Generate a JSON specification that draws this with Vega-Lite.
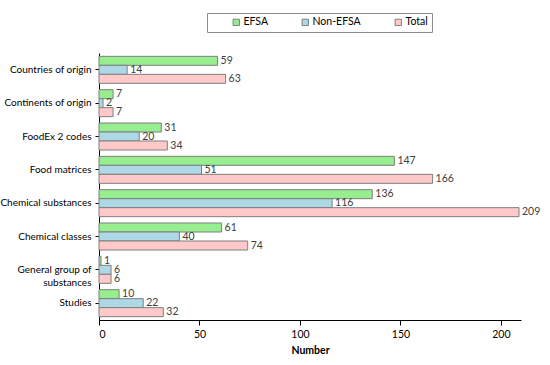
{
  "$schema": "https://vega.github.io/schema/vega-lite/v6.json",
  "autosize": {"type": "none"},
  "width": 422,
  "height": 267,
  "padding": {"left": 99, "top": 53, "right": 29, "bottom": 45},
  "background": "white",
  "config": {
    "font": "Lato",
    "view": {"stroke": null},
    "axis": {"labelFont": "Lato", "titleFont": "Lato", "labelColor": "#000", "titleColor": "#000", "domainColor": "#000", "tickColor": "#000", "grid": false}
  },
  "data": {
    "values": [
      {"category": "Countries of origin", "series": "EFSA", "value": 59},
      {"category": "Countries of origin", "series": "Non-EFSA", "value": 14},
      {"category": "Countries of origin", "series": "Total", "value": 63},
      {"category": "Continents of origin", "series": "EFSA", "value": 7},
      {"category": "Continents of origin", "series": "Non-EFSA", "value": 2},
      {"category": "Continents of origin", "series": "Total", "value": 7},
      {"category": "FoodEx 2 codes", "series": "EFSA", "value": 31},
      {"category": "FoodEx 2 codes", "series": "Non-EFSA", "value": 20},
      {"category": "FoodEx 2 codes", "series": "Total", "value": 34},
      {"category": "Food matrices", "series": "EFSA", "value": 147},
      {"category": "Food matrices", "series": "Non-EFSA", "value": 51},
      {"category": "Food matrices", "series": "Total", "value": 166},
      {"category": "Chemical substances", "series": "EFSA", "value": 136},
      {"category": "Chemical substances", "series": "Non-EFSA", "value": 116},
      {"category": "Chemical substances", "series": "Total", "value": 209},
      {"category": "Chemical classes", "series": "EFSA", "value": 61},
      {"category": "Chemical classes", "series": "Non-EFSA", "value": 40},
      {"category": "Chemical classes", "series": "Total", "value": 74},
      {"category": "General group of substances", "series": "EFSA", "value": 1},
      {"category": "General group of substances", "series": "Non-EFSA", "value": 6},
      {"category": "General group of substances", "series": "Total", "value": 6},
      {"category": "Studies", "series": "EFSA", "value": 10},
      {"category": "Studies", "series": "Non-EFSA", "value": 22},
      {"category": "Studies", "series": "Total", "value": 32}
    ]
  },
  "encoding": {
    "y": {
      "field": "category",
      "type": "nominal",
      "sort": null,
      "scale": {"paddingInner": 0.19, "paddingOuter": 0.1},
      "axis": {
        "title": null,
        "labelFontSize": 10,
        "labelPadding": 4,
        "tickSize": 4,
        "labelExpr": "datum.value == 'General group of substances' ? ['General group of', 'substances'] : datum.value",
        "labelLineHeight": 13
      }
    },
    "yOffset": {"field": "series", "type": "nominal", "sort": ["EFSA", "Non-EFSA", "Total"]},
    "x": {
      "field": "value",
      "type": "quantitative",
      "scale": {"domain": [0, 210], "nice": false},
      "axis": {"title": "Number", "titleFontSize": 10.5, "titleFontWeight": "bold", "labelFontSize": 10.5, "values": [0, 50, 100, 150, 200], "tickSize": 5, "titlePadding": 6, "labelPadding": 4}
    }
  },
  "layer": [
    {
      "mark": {"type": "bar", "stroke": "#7f7f7f", "strokeWidth": 1},
      "encoding": {
        "fill": {
          "field": "series",
          "type": "nominal",
          "sort": ["EFSA", "Non-EFSA", "Total"],
          "scale": {"domain": ["EFSA", "Non-EFSA", "Total"], "range": ["#97ee8f", "#add8e6", "#ffc9c9"]},
          "legend": {
            "title": null,
            "orient": "none",
            "direction": "horizontal",
            "legendX": 108,
            "legendY": -40,
            "strokeColor": "#8c8c8c",
            "padding": 4,
            "symbolType": "square",
            "symbolSize": 40,
            "symbolStrokeColor": "#7f7f7f",
            "symbolStrokeWidth": 1,
            "labelFontSize": 10.5,
            "labelFont": "Lato",
            "labelColor": "#000",
            "labelOffset": 2,
            "columnPadding": 12,
            "symbolOffset": 20,
            "labelLimit": 100
          }
        }
      }
    },
    {
      "mark": {"type": "text", "align": "left", "dx": 3, "baseline": "middle", "fontSize": 10.5, "color": "#404040", "font": "Lato"},
      "encoding": {"text": {"field": "value", "type": "quantitative"}}
    }
  ]
}
